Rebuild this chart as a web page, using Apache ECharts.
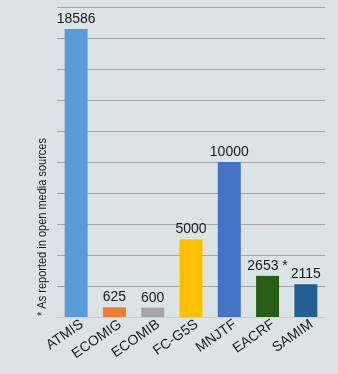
<!DOCTYPE html>
<html><head><meta charset="utf-8">
<script src="https://cdn.jsdelivr.net/npm/echarts@6/dist/echarts.min.js"></script>
<style>html,body{margin:0;padding:0;background:#dce3e5;}#c{width:338px;height:374px;}</style>
</head><body><div id="c"></div>
<script>
var categories = ['ATMIS','ECOMIG','ECOMIB','FC-G5S','MNJTF','EACRF','SAMIM'];
var values = [18586, 625, 600, 5000, 10000, 2653, 2115];
var valueLabels = ['18586','625','600','5000','10000','2653 *','2115'];
var colors = ['#5b9bd5','#ed7d31','#a5a5a5','#ffc000','#4472c4','#285e13','#255e91'];
var yTitle = '* As reported in open media sources';

var FONT = '"Liberation Sans", Arial, sans-serif';
var chart = echarts.init(document.getElementById('c'), null, {renderer:'canvas'});
chart.setOption({
  backgroundColor: '#dce3e5',
  animation: false,
  textStyle: {fontFamily: FONT},
  grid: {left: 57, right: 13, top: 7, bottom: 57},
  xAxis: {
    type: 'category', data: categories,
    axisLine: {lineStyle: {color: '#c8cfd1', width: 1}},
    axisTick: {show: false},
    axisLabel: {rotate: 35, margin: 10, fontSize: 14, fontFamily: FONT, color: '#1a1a1a', interval: 0, padding: [0, -7, 0, 0]}
  },
  yAxis: {
    type: 'value', min: 0, max: 20000, interval: 2000,
    axisLine: {show: false}, axisTick: {show: false}, axisLabel: {show: false},
    splitLine: {lineStyle: {color: '#a6a6a6', width: 1}}
  },
  graphic: [{
    type: 'text', x: 43, y: 227, rotation: Math.PI/2, scaleX: 0.88,
    style: {text: yTitle, fontSize: 12.5, fill: '#1a1a1a', align: 'center', verticalAlign: 'middle', fontFamily: FONT}
  }],
  series: [{
    type: 'bar', barWidth: '60%',
    data: values.map(function(v, i){ return {value: v, itemStyle: {color: colors[i]}}; }),
    label: {show: true, position: 'top', distance: 3, fontSize: 14, fontFamily: FONT, color: '#1a1a1a',
      formatter: function(p){ return valueLabels[p.dataIndex]; }}
  }]
});
</script></body></html>
